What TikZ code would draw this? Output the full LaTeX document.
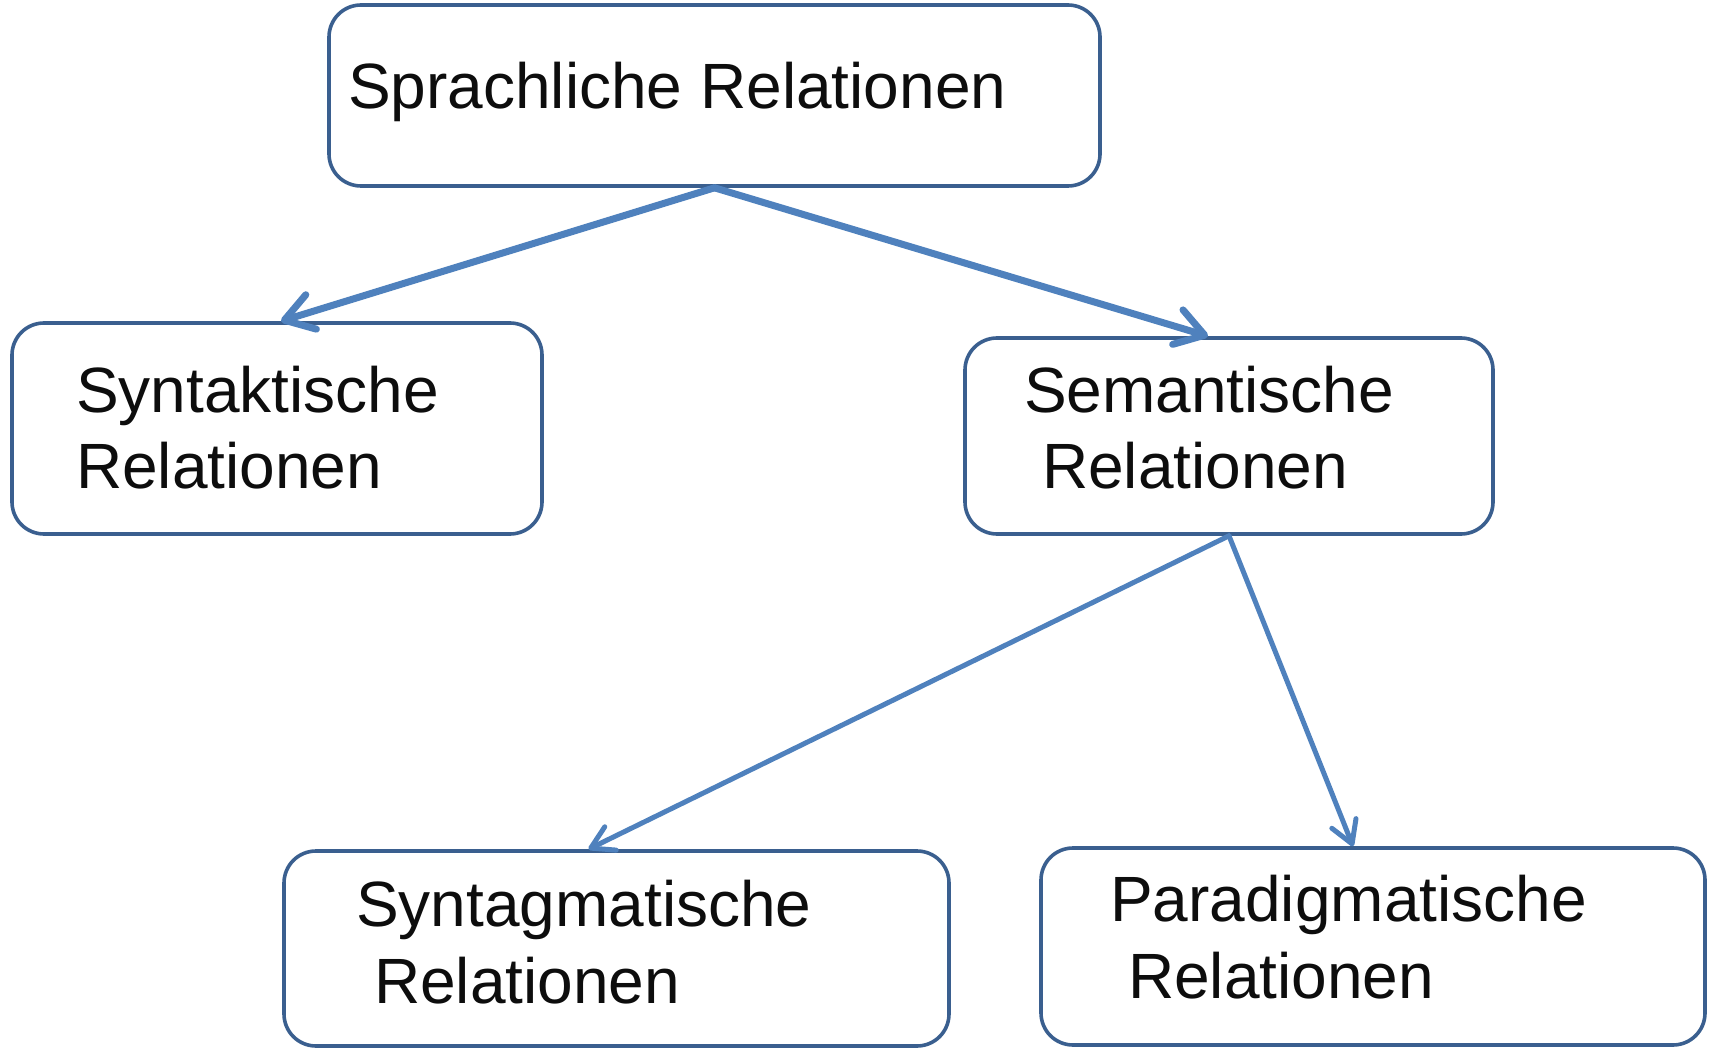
\documentclass[tikz,border=0pt]{standalone}
\usepackage{fontspec}
\setmainfont{Liberation Sans}
\usetikzlibrary{arrows.meta}
\definecolor{boxline}{HTML}{3A5F8F}
\definecolor{arrowcol}{HTML}{4F81BD}
\definecolor{txt}{HTML}{0D0D0D}
\tikzset{
  rbox/.style={draw=boxline, line width=3.6pt, rounded corners=32pt, fill=white, inner sep=0pt},
  lbl/.style={anchor=base west, inner sep=0pt, align=left, text=txt,
    font=\fontsize{64}{77}\selectfont},
  thickarrow/.style={draw=arrowcol, line width=7pt, line cap=round, line join=miter,
    -{Straight Barb[length=28pt, width=36pt, round]}},
  thinarrow/.style={draw=arrowcol, line width=5pt, line cap=round,
    -{Straight Barb[length=22pt, width=26pt, round]}}
}
\begin{document}
\begin{tikzpicture}[x=1pt, y=-1pt]
\useasboundingbox (0,0) rectangle (1709,1048);
\node[rbox, minimum width=771pt, minimum height=181pt] (top) at (714.5,95.5) {};
\node[rbox, minimum width=530pt, minimum height=211pt] (syn) at (277,428.5) {};
\node[rbox, minimum width=528pt, minimum height=196pt] (sem) at (1229,436) {};
\node[rbox, minimum width=665pt, minimum height=195pt] (syg) at (616.5,948.5) {};
\node[rbox, minimum width=664pt, minimum height=197pt] (par) at (1373,946.5) {};

\node[lbl] (ltop) at (348,109) {Sprachliche Relationen};
\node[lbl] (lsyn) at (76,489) {Syntaktische\\Relationen};
\node[lbl] (lsem) at (1024,489) {Semantische\\\hspace*{0.28em}Relationen};
\node[lbl] (lsyg) at (356,1003) {Syntagmatische\\\hspace*{0.28em}Relationen};
\node[lbl] (lpar) at (1110,998) {Paradigmatische\\\hspace*{0.28em}Relationen};

\draw[thickarrow] (top.south) -- ([xshift=4pt]syn.north);
\draw[thickarrow] (top.south) -- ([xshift=-21pt]sem.north);
\draw[thinarrow] (sem.south) -- ([xshift=-28pt]syg.north);
\draw[thinarrow] (sem.south) -- ([xshift=-20pt]par.north);
\end{tikzpicture}
\end{document}
